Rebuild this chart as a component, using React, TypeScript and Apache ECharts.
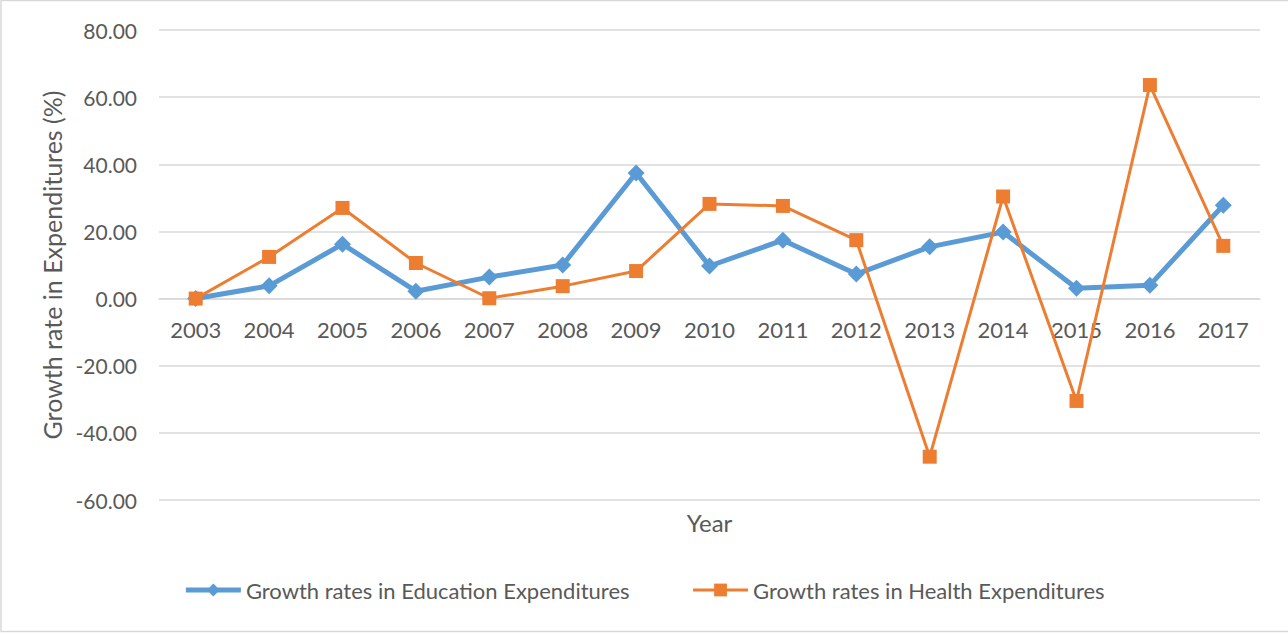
import React, { useEffect, useRef } from "react";
import * as echarts from "echarts";

const years = ["2003", "2004", "2005", "2006", "2007", "2008", "2009", "2010", "2011", "2012", "2013", "2014", "2015", "2016", "2017"];
const educationGrowth = [0.0, 3.8, 16.2, 2.2, 6.4, 10.0, 37.4, 9.7, 17.4, 7.3, 15.4, 19.8, 3.1, 4.0, 27.8];
const healthGrowth = [0.0, 12.4, 27.0, 10.6, 0.1, 3.7, 8.2, 28.2, 27.6, 17.4, -47.1, 30.4, -30.5, 63.6, 15.7];
const seriesNames = ["Growth rates in Education Expenditures", "Growth rates in Health Expenditures"];

const FONT = "Lato";
const TEXT = "#595959";
const BLUE = "#5b9bd5";
const ORANGE = "#ed7d31";

const GRID_TOP = 30;
const GRID_BOTTOM = 134;
const CHART_H = 634;
const Y_MIN = -60;
const Y_MAX = 80;

export default function App() {
  const ref = useRef<HTMLDivElement>(null);
  useEffect(() => {
    document.body.style.margin = "0";
    const chart = echarts.init(ref.current!, null, { renderer: "svg" });
    const gridH = CHART_H - GRID_TOP - GRID_BOTTOM;
    const zeroOffset = -(gridH * (0 - Y_MIN)) / (Y_MAX - Y_MIN);
    chart.setOption({
      animation: false,
      backgroundColor: "#ffffff",
      textStyle: { fontFamily: FONT, color: TEXT },
      graphic: [
        {
          type: "rect",
          shape: { x: 1, y: 0.5, width: 1300, height: 631 },
          style: { fill: "none", stroke: "#d9d9d9", lineWidth: 1.5 },
          silent: true,
        },
      ],
      grid: { left: 159, right: 28, top: GRID_TOP, bottom: GRID_BOTTOM, containLabel: false, outerBoundsMode: "none" },
      legend: {
        bottom: 28,
        left: "center",
        itemWidth: 55,
        itemHeight: 16,
        itemGap: 62,
        textStyle: { fontFamily: FONT, fontSize: 22, color: TEXT },
        data: [
          { name: seriesNames[0], lineStyle: { width: 5, color: BLUE }, itemStyle: { color: BLUE } },
          { name: seriesNames[1], lineStyle: { width: 3, color: ORANGE }, itemStyle: { color: ORANGE } },
        ],
      },
      xAxis: {
        type: "category",
        data: years,
        boundaryGap: true,
        position: "bottom",
        offset: zeroOffset,
        name: "Year",
        nameLocation: "middle",
        nameGap: 212,
        nameTextStyle: { fontFamily: FONT, fontSize: 24, color: TEXT },
        axisLine: { onZero: false, lineStyle: { color: "#d9d9d9", width: 1.5 } },
        axisTick: { show: false },
        axisLabel: { fontFamily: FONT, fontSize: 22, color: TEXT, margin: 20, interval: 0 },
      },
      yAxis: {
        type: "value",
        min: Y_MIN,
        max: Y_MAX,
        interval: 20,
        name: "Growth rate in Expenditures (%)",
        nameLocation: "middle",
        nameGap: 94,
        nameTextStyle: { fontFamily: FONT, fontSize: 25, color: TEXT },
        axisLine: { show: false },
        axisTick: { show: false },
        axisLabel: {
          fontFamily: FONT,
          fontSize: 21,
          color: TEXT,
          margin: 22,
          formatter: (v: number) => v.toFixed(2),
        },
        splitLine: { lineStyle: { color: "#d9d9d9", width: 1.5 } },
      },
      series: [
        {
          name: seriesNames[0],
          type: "line",
          data: educationGrowth,
          symbol: "diamond",
          symbolSize: 17,
          lineStyle: { color: BLUE, width: 5 },
          itemStyle: { color: BLUE },
        },
        {
          name: seriesNames[1],
          type: "line",
          data: healthGrowth,
          symbol: "rect",
          symbolSize: 14,
          lineStyle: { color: ORANGE, width: 3 },
          itemStyle: { color: ORANGE },
        },
      ],
    });
    return () => chart.dispose();
  }, []);
  return <div ref={ref} style={{ width: 1288, height: 634 }} />;
}
